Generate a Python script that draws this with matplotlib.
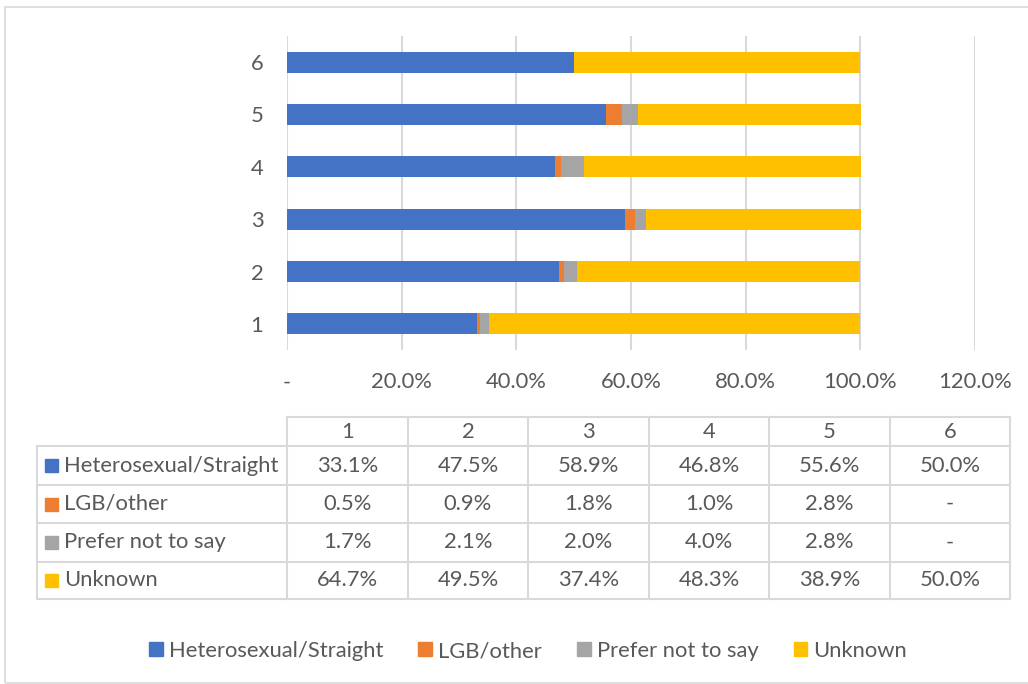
import matplotlib
matplotlib.use("Agg")
import matplotlib.pyplot as plt
from matplotlib.patches import Rectangle, Patch
from matplotlib.lines import Line2D
from matplotlib.ticker import FuncFormatter

categories = ["1", "2", "3", "4", "5", "6"]
series_names = ["Heterosexual/Straight", "LGB/other", "Prefer not to say", "Unknown"]
heterosexual = [33.1, 47.5, 58.9, 46.8, 55.6, 50.0]
lgb_other = [0.5, 0.9, 1.8, 1.0, 2.8, 0.0]
prefer_not = [1.7, 2.1, 2.0, 4.0, 2.8, 0.0]
unknown = [64.7, 49.5, 37.4, 48.3, 38.9, 50.0]
colors = ["#4472C4", "#ED7D31", "#A5A5A5", "#FFC000"]
x_ticks = [0, 20, 40, 60, 80, 100, 120]

plt.rcParams['font.family'] = ['Lato', 'DejaVu Sans']
TXT = "#595959"
GRID = "#D9D9D9"
FS = 15.8
W, H = 1028, 684
fig = plt.figure(figsize=(W / 100, H / 100), dpi=100)

def fx(px):
    return px / W

def fy(py):
    return 1 - py / H

# outer border
fig.add_artist(Rectangle((fx(5), fy(683)), fx(1030) - fx(5), fy(7) - fy(683),
                         transform=fig.transFigure, fill=False, edgecolor=GRID, lw=1.2))

ax = fig.add_axes([fx(287), fy(350), fx(975) - fx(287), fy(36) - fy(350)])
series = [heterosexual, lgb_other, prefer_not, unknown]
ypos = list(range(1, len(categories) + 1))
left = [0.0] * len(categories)
for vals, c, name in zip(series, colors, series_names):
    ax.barh(ypos, vals, left=left, height=0.4, color=c, label=name, zorder=3)
    left = [l + v for l, v in zip(left, vals)]

ax.set_xlim(0, 120)
ax.set_ylim(0.5, len(categories) + 0.5)
ax.set_xticks(x_ticks)
ax.xaxis.set_major_formatter(FuncFormatter(lambda v, p: "-" if v == 0 else f"{v:.1f}%"))
ax.set_yticks(ypos)
ax.set_yticklabels(categories)
ax.grid(axis="x", color=GRID, lw=1.5, zorder=0)
for s in ax.spines.values():
    s.set_visible(False)
ax.tick_params(axis="both", length=0, labelsize=FS, colors=TXT)
ax.tick_params(axis="x", pad=16)
ax.tick_params(axis="y", pad=17)

# data table
col_edges = [287, 408, 528, 649, 769, 890, 1010]
row_edges = [417, 446, 485, 523, 562, 599]
tl = dict(transform=fig.transFigure, color=GRID, lw=1.5)
fig.add_artist(Line2D([fx(col_edges[0]), fx(col_edges[-1])], [fy(row_edges[0])] * 2, **tl))
for r in row_edges[1:]:
    fig.add_artist(Line2D([fx(37), fx(col_edges[-1])], [fy(r)] * 2, **tl))
for c in col_edges:
    fig.add_artist(Line2D([fx(c)] * 2, [fy(row_edges[0]), fy(row_edges[-1])], **tl))
fig.add_artist(Line2D([fx(37)] * 2, [fy(row_edges[1]), fy(row_edges[-1])], **tl))

for j, cat in enumerate(categories):
    cx = (col_edges[j] + col_edges[j + 1]) / 2
    fig.text(fx(cx), fy((row_edges[0] + row_edges[1]) / 2), cat, ha="center", va="center",
             fontsize=FS, color=TXT)
for i, (vals, c, name) in enumerate(zip(series, colors, series_names)):
    cy = (row_edges[i + 1] + row_edges[i + 2]) / 2
    fig.add_artist(Rectangle((fx(45), fy(cy + 6.5)), fx(13), fy(0) - fy(13),
                             transform=fig.transFigure, color=c))
    fig.text(fx(64), fy(cy), name, ha="left", va="center", fontsize=FS, color=TXT)
    for j, v in enumerate(vals):
        cx = (col_edges[j] + col_edges[j + 1]) / 2
        fig.text(fx(cx), fy(cy), "-" if v == 0 else f"{v:.1f}%", ha="center", va="center",
                 fontsize=FS, color=TXT)

handles = [Patch(color=c) for c in colors]
fig.legend(handles, series_names, loc="center", bbox_to_anchor=(fx(528), fy(651)), ncol=4,
           frameon=False, fontsize=FS, labelcolor=TXT, handlelength=0.62, handleheight=0.62,
           handletextpad=0.28, columnspacing=1.6)

fig.savefig("out.png", dpi=100)
